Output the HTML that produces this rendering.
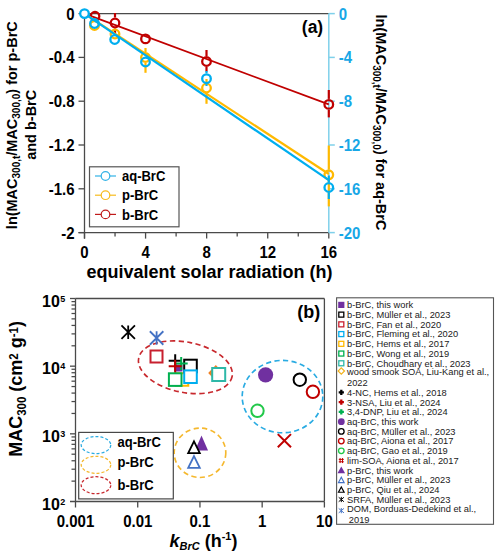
<!DOCTYPE html>
<html><head><meta charset="utf-8"><style>
html,body{margin:0;padding:0;background:#fff;width:500px;height:557px;overflow:hidden}
svg{display:block}
text{font-family:"Liberation Sans", sans-serif;fill:#000}
.b13{font-size:13px;font-weight:bold}
.b14{font-size:15px;font-weight:bold}
.b15{font-size:15px;font-weight:bold}
.b145{font-size:14.5px;font-weight:bold}
.b155{font-size:15.5px;font-weight:bold}
.b16{font-size:16px;font-weight:bold}
.b17{font-size:17px;font-weight:bold}
.b18{font-size:18px;font-weight:bold}
.b185{font-size:18px;font-weight:bold}
.b10{font-size:10px;font-weight:bold}
.r93{font-size:9.3px;fill:#1a1a1a}
.sub{font-size:10px}
.sub2{font-size:11px}
.sup2{font-size:11px}
.sub3{font-size:11.5px}
</style></head><body>
<svg width="500" height="557" viewBox="0 0 500 557">
<line x1="84.5" y1="13.6" x2="328.8" y2="13.6" stroke="#4a4a4a" stroke-width="1.3"/>
<line x1="84.5" y1="13.6" x2="84.5" y2="238.6" stroke="#4a4a4a" stroke-width="1.3"/>
<line x1="78.5" y1="232.6" x2="328.8" y2="232.6" stroke="#4a4a4a" stroke-width="1.3"/>
<line x1="78.5" y1="13.60" x2="84.5" y2="13.60" stroke="#4a4a4a" stroke-width="1.3"/>
<text transform="translate(74.5,19.60) scale(1,1.07)" x="0" y="0" text-anchor="end" class="b14">0</text>
<line x1="78.5" y1="57.40" x2="84.5" y2="57.40" stroke="#4a4a4a" stroke-width="1.3"/>
<text transform="translate(74.5,63.40) scale(1,1.07)" x="0" y="0" text-anchor="end" class="b14">-0.4</text>
<line x1="78.5" y1="101.20" x2="84.5" y2="101.20" stroke="#4a4a4a" stroke-width="1.3"/>
<text transform="translate(74.5,107.20) scale(1,1.07)" x="0" y="0" text-anchor="end" class="b14">-0.8</text>
<line x1="78.5" y1="145.00" x2="84.5" y2="145.00" stroke="#4a4a4a" stroke-width="1.3"/>
<text transform="translate(74.5,151.00) scale(1,1.07)" x="0" y="0" text-anchor="end" class="b14">-1.2</text>
<line x1="78.5" y1="188.80" x2="84.5" y2="188.80" stroke="#4a4a4a" stroke-width="1.3"/>
<text transform="translate(74.5,194.80) scale(1,1.07)" x="0" y="0" text-anchor="end" class="b14">-1.6</text>
<line x1="78.5" y1="232.60" x2="84.5" y2="232.60" stroke="#4a4a4a" stroke-width="1.3"/>
<text transform="translate(74.5,238.60) scale(1,1.07)" x="0" y="0" text-anchor="end" class="b14">-2</text>
<line x1="84.50" y1="232.6" x2="84.50" y2="238.6" stroke="#4a4a4a" stroke-width="1.3"/>
<text transform="translate(84.50,258.4) scale(1,1.07)" x="0" y="0" text-anchor="middle" class="b14">0</text>
<line x1="115.04" y1="232.6" x2="115.04" y2="236.6" stroke="#4a4a4a" stroke-width="1.3"/>
<line x1="145.57" y1="232.6" x2="145.57" y2="238.6" stroke="#4a4a4a" stroke-width="1.3"/>
<text transform="translate(145.57,258.4) scale(1,1.07)" x="0" y="0" text-anchor="middle" class="b14">4</text>
<line x1="176.11" y1="232.6" x2="176.11" y2="236.6" stroke="#4a4a4a" stroke-width="1.3"/>
<line x1="206.65" y1="232.6" x2="206.65" y2="238.6" stroke="#4a4a4a" stroke-width="1.3"/>
<text transform="translate(206.65,258.4) scale(1,1.07)" x="0" y="0" text-anchor="middle" class="b14">8</text>
<line x1="237.19" y1="232.6" x2="237.19" y2="236.6" stroke="#4a4a4a" stroke-width="1.3"/>
<line x1="267.73" y1="232.6" x2="267.73" y2="238.6" stroke="#4a4a4a" stroke-width="1.3"/>
<text transform="translate(267.73,258.4) scale(1,1.07)" x="0" y="0" text-anchor="middle" class="b14">12</text>
<line x1="298.26" y1="232.6" x2="298.26" y2="236.6" stroke="#4a4a4a" stroke-width="1.3"/>
<line x1="328.80" y1="232.6" x2="328.80" y2="238.6" stroke="#4a4a4a" stroke-width="1.3"/>
<text transform="translate(328.80,258.4) scale(1,1.07)" x="0" y="0" text-anchor="middle" class="b14">16</text>
<text transform="translate(209.5,278) scale(1,1.07)" x="0" y="0" text-anchor="middle" class="b18">equivalent solar radiation (h)</text>
<line x1="328.8" y1="13.6" x2="328.8" y2="232.6" stroke="#7FD0EA" stroke-width="1.5"/>
<line x1="328.8" y1="13.60" x2="334.8" y2="13.60" stroke="#7FD0EA" stroke-width="1.5"/>
<text transform="translate(338.8,19.60) scale(1,1.07)" x="0" y="0" class="b14" style="fill:#18A7E6">0</text>
<line x1="328.8" y1="57.40" x2="334.8" y2="57.40" stroke="#7FD0EA" stroke-width="1.5"/>
<text transform="translate(338.8,63.40) scale(1,1.07)" x="0" y="0" class="b14" style="fill:#18A7E6">-4</text>
<line x1="328.8" y1="101.20" x2="334.8" y2="101.20" stroke="#7FD0EA" stroke-width="1.5"/>
<text transform="translate(338.8,107.20) scale(1,1.07)" x="0" y="0" class="b14" style="fill:#18A7E6">-8</text>
<line x1="328.8" y1="145.00" x2="334.8" y2="145.00" stroke="#7FD0EA" stroke-width="1.5"/>
<text transform="translate(338.8,151.00) scale(1,1.07)" x="0" y="0" class="b14" style="fill:#18A7E6">-12</text>
<line x1="328.8" y1="188.80" x2="334.8" y2="188.80" stroke="#7FD0EA" stroke-width="1.5"/>
<text transform="translate(338.8,194.80) scale(1,1.07)" x="0" y="0" class="b14" style="fill:#18A7E6">-16</text>
<line x1="328.8" y1="232.60" x2="334.8" y2="232.60" stroke="#7FD0EA" stroke-width="1.5"/>
<text transform="translate(338.8,238.60) scale(1,1.07)" x="0" y="0" class="b14" style="fill:#18A7E6">-20</text>
<text transform="translate(323.2,33.3) scale(1,1.07)" x="0" y="0" text-anchor="end" class="b16" style="font-size:17.5px">(a)</text>
<text transform="translate(17.3,125.2) rotate(-90) scale(1,1.07)" text-anchor="middle" class="b145">ln(MAC<tspan class="sub" dy="2.6">300,t</tspan><tspan dy="-2.6">/MAC</tspan><tspan class="sub" dy="2.6">300,0</tspan><tspan dy="-2.6">) for p-BrC</tspan></text>
<text transform="translate(36.1,124.8) rotate(-90) scale(1,1.07)" text-anchor="middle" class="b145" font-size="14.5">and b-BrC</text>
<text transform="translate(375.9,122.4) rotate(90) scale(1,1.07)" text-anchor="middle" class="b145">ln(MAC<tspan class="sub" dy="2.6">300,t</tspan><tspan dy="-2.6">/MAC</tspan><tspan class="sub" dy="2.6">300,0</tspan><tspan dy="-2.6">) for aq-BrC</tspan></text>
<line x1="84.5" y1="13.6" x2="328.8" y2="104.4" stroke="#C00000" stroke-width="1.75"/>
<circle cx="95" cy="16.3" r="4.3" fill="none" stroke="#C00000" stroke-width="2.3"/>
<line x1="115" y1="13" x2="115" y2="17.5" stroke="#C00000" stroke-width="2.2"/><line x1="115" y1="28.5" x2="115" y2="33" stroke="#C00000" stroke-width="2.2"/>
<circle cx="115" cy="23" r="4.3" fill="none" stroke="#C00000" stroke-width="2.3"/>
<circle cx="145.5" cy="38.9" r="4.3" fill="none" stroke="#C00000" stroke-width="2.3"/>
<line x1="206.5" y1="50" x2="206.5" y2="56.0" stroke="#C00000" stroke-width="2.2"/><line x1="206.5" y1="67.0" x2="206.5" y2="71.6" stroke="#C00000" stroke-width="2.2"/>
<circle cx="206.5" cy="61.5" r="4.3" fill="none" stroke="#C00000" stroke-width="2.3"/>
<line x1="328.8" y1="90" x2="328.8" y2="98.9" stroke="#C00000" stroke-width="2.2"/><line x1="328.8" y1="109.9" x2="328.8" y2="117.4" stroke="#C00000" stroke-width="2.2"/>
<circle cx="328.8" cy="104.4" r="4.3" fill="none" stroke="#C00000" stroke-width="2.3"/>
<line x1="84.5" y1="13.6" x2="328.8" y2="174" stroke="#FFB900" stroke-width="2.2"/>
<circle cx="94.5" cy="25.5" r="4.3" fill="none" stroke="#FFB900" stroke-width="2.3"/>
<circle cx="115" cy="34" r="4.3" fill="none" stroke="#FFB900" stroke-width="2.3"/>
<line x1="145.5" y1="48" x2="145.5" y2="52.0" stroke="#FFB900" stroke-width="2.2"/><line x1="145.5" y1="63.0" x2="145.5" y2="72.8" stroke="#FFB900" stroke-width="2.2"/>
<circle cx="145.5" cy="57.5" r="4.3" fill="none" stroke="#FFB900" stroke-width="2.3"/>
<line x1="206.5" y1="79" x2="206.5" y2="82.5" stroke="#FFB900" stroke-width="2.2"/><line x1="206.5" y1="93.5" x2="206.5" y2="103.8" stroke="#FFB900" stroke-width="2.2"/>
<circle cx="206.5" cy="88" r="4.3" fill="none" stroke="#FFB900" stroke-width="2.3"/>
<line x1="328.8" y1="145.5" x2="328.8" y2="169.3" stroke="#FFB900" stroke-width="2.2"/><line x1="328.8" y1="180.3" x2="328.8" y2="206.4" stroke="#FFB900" stroke-width="2.2"/>
<circle cx="328.8" cy="174.8" r="4.3" fill="none" stroke="#FFB900" stroke-width="2.3"/>
<line x1="84.5" y1="13.6" x2="328.8" y2="180.2" stroke="#00AEEF" stroke-width="2.2"/>
<circle cx="84.5" cy="13.6" r="4.3" fill="#fff" stroke="#00AEEF" stroke-width="2.3"/>
<circle cx="94.5" cy="23.5" r="4.3" fill="none" stroke="#00AEEF" stroke-width="2.3"/>
<circle cx="114.7" cy="39.5" r="4.3" fill="none" stroke="#00AEEF" stroke-width="2.3"/>
<circle cx="145.5" cy="62" r="4.3" fill="none" stroke="#00AEEF" stroke-width="2.3"/>
<line x1="206.5" y1="71" x2="206.5" y2="73.2" stroke="#00AEEF" stroke-width="2.2"/><line x1="206.5" y1="84.2" x2="206.5" y2="86" stroke="#00AEEF" stroke-width="2.2"/>
<circle cx="206.5" cy="78.7" r="4.3" fill="none" stroke="#00AEEF" stroke-width="2.3"/>
<line x1="328.8" y1="175.5" x2="328.8" y2="182.0" stroke="#00AEEF" stroke-width="2.2"/><line x1="328.8" y1="193.0" x2="328.8" y2="199" stroke="#00AEEF" stroke-width="2.2"/>
<circle cx="328.8" cy="187.5" r="4.3" fill="none" stroke="#00AEEF" stroke-width="2.3"/>
<rect x="89.5" y="166.8" width="89.5" height="60" fill="#fff" stroke="#555" stroke-width="1.2"/>
<line x1="95" y1="176.0" x2="116" y2="176.0" stroke="#33B2E6" stroke-width="1.2"/>
<circle cx="105.5" cy="176.0" r="4.3" fill="#fff" stroke="#33B2E6" stroke-width="1.2"/>
<text transform="translate(122,180.6) scale(1,1.07)" x="0" y="0" class="b13">aq-BrC</text>
<line x1="95" y1="195.2" x2="116" y2="195.2" stroke="#F7BC1E" stroke-width="1.2"/>
<circle cx="105.5" cy="195.2" r="4.3" fill="#fff" stroke="#F7BC1E" stroke-width="1.2"/>
<text transform="translate(122,200.3) scale(1,1.07)" x="0" y="0" class="b13">p-BrC</text>
<line x1="95" y1="214.4" x2="116" y2="214.4" stroke="#C01A1A" stroke-width="1.2"/>
<circle cx="105.5" cy="214.4" r="4.3" fill="#fff" stroke="#C01A1A" stroke-width="1.2"/>
<text transform="translate(122,220.0) scale(1,1.07)" x="0" y="0" class="b13">b-BrC</text>
<line x1="75.5" y1="298.5" x2="324.4" y2="298.5" stroke="#4a4a4a" stroke-width="1.3"/>
<line x1="324.4" y1="298.5" x2="324.4" y2="501.5" stroke="#4a4a4a" stroke-width="1.3"/>
<line x1="75.5" y1="298.5" x2="75.5" y2="507.5" stroke="#4a4a4a" stroke-width="1.3"/>
<line x1="70.0" y1="501.5" x2="324.4" y2="501.5" stroke="#4a4a4a" stroke-width="1.3"/>
<line x1="70.0" y1="298.50" x2="75.5" y2="298.50" stroke="#4a4a4a" stroke-width="1.3"/>
<line x1="71.5" y1="345.80" x2="75.5" y2="345.80" stroke="#4a4a4a" stroke-width="1.25"/>
<line x1="71.5" y1="333.88" x2="75.5" y2="333.88" stroke="#4a4a4a" stroke-width="1.25"/>
<line x1="71.5" y1="325.43" x2="75.5" y2="325.43" stroke="#4a4a4a" stroke-width="1.25"/>
<line x1="71.5" y1="318.87" x2="75.5" y2="318.87" stroke="#4a4a4a" stroke-width="1.25"/>
<line x1="71.5" y1="313.51" x2="75.5" y2="313.51" stroke="#4a4a4a" stroke-width="1.25"/>
<line x1="71.5" y1="308.98" x2="75.5" y2="308.98" stroke="#4a4a4a" stroke-width="1.25"/>
<line x1="71.5" y1="305.06" x2="75.5" y2="305.06" stroke="#4a4a4a" stroke-width="1.25"/>
<line x1="71.5" y1="301.60" x2="75.5" y2="301.60" stroke="#4a4a4a" stroke-width="1.25"/>
<line x1="70.0" y1="366.17" x2="75.5" y2="366.17" stroke="#4a4a4a" stroke-width="1.3"/>
<line x1="71.5" y1="413.46" x2="75.5" y2="413.46" stroke="#4a4a4a" stroke-width="1.25"/>
<line x1="71.5" y1="401.55" x2="75.5" y2="401.55" stroke="#4a4a4a" stroke-width="1.25"/>
<line x1="71.5" y1="393.09" x2="75.5" y2="393.09" stroke="#4a4a4a" stroke-width="1.25"/>
<line x1="71.5" y1="386.54" x2="75.5" y2="386.54" stroke="#4a4a4a" stroke-width="1.25"/>
<line x1="71.5" y1="381.18" x2="75.5" y2="381.18" stroke="#4a4a4a" stroke-width="1.25"/>
<line x1="71.5" y1="376.65" x2="75.5" y2="376.65" stroke="#4a4a4a" stroke-width="1.25"/>
<line x1="71.5" y1="372.72" x2="75.5" y2="372.72" stroke="#4a4a4a" stroke-width="1.25"/>
<line x1="71.5" y1="369.26" x2="75.5" y2="369.26" stroke="#4a4a4a" stroke-width="1.25"/>
<line x1="70.0" y1="433.83" x2="75.5" y2="433.83" stroke="#4a4a4a" stroke-width="1.3"/>
<line x1="71.5" y1="481.13" x2="75.5" y2="481.13" stroke="#4a4a4a" stroke-width="1.25"/>
<line x1="71.5" y1="469.21" x2="75.5" y2="469.21" stroke="#4a4a4a" stroke-width="1.25"/>
<line x1="71.5" y1="460.76" x2="75.5" y2="460.76" stroke="#4a4a4a" stroke-width="1.25"/>
<line x1="71.5" y1="454.20" x2="75.5" y2="454.20" stroke="#4a4a4a" stroke-width="1.25"/>
<line x1="71.5" y1="448.85" x2="75.5" y2="448.85" stroke="#4a4a4a" stroke-width="1.25"/>
<line x1="71.5" y1="444.32" x2="75.5" y2="444.32" stroke="#4a4a4a" stroke-width="1.25"/>
<line x1="71.5" y1="440.39" x2="75.5" y2="440.39" stroke="#4a4a4a" stroke-width="1.25"/>
<line x1="71.5" y1="436.93" x2="75.5" y2="436.93" stroke="#4a4a4a" stroke-width="1.25"/>
<text transform="translate(59.8,306.70) scale(1,1.07)" x="0" y="0" text-anchor="end" class="b16">10</text>
<text transform="translate(60.2,301.60) scale(1,1.07)" x="0" y="0" class="b10" style="font-size:9px">5</text>
<text transform="translate(59.8,374.37) scale(1,1.07)" x="0" y="0" text-anchor="end" class="b16">10</text>
<text transform="translate(60.2,369.27) scale(1,1.07)" x="0" y="0" class="b10" style="font-size:9px">4</text>
<text transform="translate(59.8,442.03) scale(1,1.07)" x="0" y="0" text-anchor="end" class="b16">10</text>
<text transform="translate(60.2,436.93) scale(1,1.07)" x="0" y="0" class="b10" style="font-size:9px">3</text>
<text transform="translate(59.8,509.70) scale(1,1.07)" x="0" y="0" text-anchor="end" class="b16">10</text>
<text transform="translate(60.2,504.60) scale(1,1.07)" x="0" y="0" class="b10" style="font-size:9px">2</text>
<text transform="translate(75.50,526.8) scale(1,1.07)" x="0" y="0" text-anchor="middle" class="b14">0.001</text>
<line x1="137.72" y1="501.5" x2="137.72" y2="507.5" stroke="#4a4a4a" stroke-width="1.3"/>
<text transform="translate(137.72,526.8) scale(1,1.07)" x="0" y="0" text-anchor="middle" class="b14">0.01</text>
<line x1="199.95" y1="501.5" x2="199.95" y2="507.5" stroke="#4a4a4a" stroke-width="1.3"/>
<text transform="translate(199.95,526.8) scale(1,1.07)" x="0" y="0" text-anchor="middle" class="b14">0.1</text>
<line x1="262.17" y1="501.5" x2="262.17" y2="507.5" stroke="#4a4a4a" stroke-width="1.3"/>
<text transform="translate(262.17,526.8) scale(1,1.07)" x="0" y="0" text-anchor="middle" class="b14">1</text>
<line x1="324.40" y1="501.5" x2="324.40" y2="507.5" stroke="#4a4a4a" stroke-width="1.3"/>
<text transform="translate(324.40,526.8) scale(1,1.07)" x="0" y="0" text-anchor="middle" class="b14">10</text>
<text transform="translate(320.3,318.2) scale(1,1.07)" x="0" y="0" text-anchor="end" class="b17" style="font-size:18px">(b)</text>
<text transform="translate(169.5,546.8) scale(1,1.07)" x="0" y="0" class="b18"><tspan font-style="italic">k</tspan><tspan font-style="italic" class="sub2" dy="3">BrC</tspan><tspan dy="-3"> (h</tspan><tspan class="sup2" dy="-6">-1</tspan><tspan dy="6">)</tspan></text>
<text transform="translate(22.1,388.9) rotate(-90) scale(1,1.07)" text-anchor="middle" class="b185">MAC<tspan class="sub3" dy="3.9">300</tspan><tspan dy="-3.9"> (cm</tspan><tspan class="sub3" dy="-4.2">2</tspan><tspan dy="4.2"> g</tspan><tspan class="sub3" dy="-4.2">-1</tspan><tspan dy="4.2">)</tspan></text>
<ellipse cx="185.4" cy="367.3" rx="47.6" ry="25.2" transform="rotate(11.15 185.4 367.3)" fill="none" stroke="#C8282D" stroke-width="1.65" stroke-dasharray="5.2 3.4"/>
<ellipse cx="282.5" cy="396.6" rx="40.3" ry="36.2" fill="none" stroke="#29ABE2" stroke-width="1.65" stroke-dasharray="5.2 3.4"/>
<ellipse cx="200" cy="452.8" rx="25.8" ry="24.7" fill="none" stroke="#F5B82E" stroke-width="1.65" stroke-dasharray="5.2 3.4"/>
<path d="M121.44999999999999 325.45L134.95 338.95M134.95 325.45L121.44999999999999 338.95M128.2 325.45V338.95" stroke="#000" stroke-width="1.8" fill="none"/>
<path d="M149.85 331.25L163.35 344.75M163.35 331.25L149.85 344.75M156.6 331.25V344.75" stroke="#4472C4" stroke-width="1.8" fill="none"/>
<rect x="150.5" y="350.5" width="12" height="12" fill="#fff" stroke="#C8202F" stroke-width="2"/>
<path d="M215.8 365L223.4 373L215.8 381L208.2 373Z" fill="#F07F22"/>
<rect x="212.2" y="368.0" width="13" height="13" fill="#fff" stroke="#2EB8A8" stroke-width="2"/>
<rect x="175.75" y="373.25" width="12.5" height="12.5" fill="#fff" stroke="#FFB900" stroke-width="2"/>
<rect x="174" y="364.5" width="8.5" height="7" fill="#7030A0"/>
<rect x="184.2" y="359.7" width="12.6" height="12.6" fill="#fff" stroke="#000" stroke-width="2"/>
<path d="M168.7 360.8H181.7M175.2 354.3V367.3" stroke="#000" stroke-width="2" fill="none"/>
<path d="M174.7 363.5H187.7M181.2 357.0V370.0" stroke="#00B050" stroke-width="2" fill="none"/>
<path d="M168.7 366.2H181.7M175.2 359.7V372.7" stroke="#C00000" stroke-width="2" fill="none"/>
<rect x="184.2" y="370.4" width="12.6" height="12.6" fill="#fff" stroke="#00AEEF" stroke-width="2"/>
<rect x="168.89999999999998" y="373.3" width="12.6" height="12.6" fill="#fff" stroke="#00B050" stroke-width="2"/>
<circle cx="265.6" cy="374.8" r="7.6" fill="#7030A0"/>
<circle cx="299.8" cy="379.7" r="6.2" fill="#fff" stroke="#000" stroke-width="2"/>
<circle cx="312.9" cy="391.8" r="6.2" fill="#fff" stroke="#C00000" stroke-width="2"/>
<circle cx="257.5" cy="410.8" r="6.2" fill="#fff" stroke="#22C84A" stroke-width="2"/>
<path d="M277.79999999999995 434.09999999999997L291.0 447.3M291.0 434.09999999999997L277.79999999999995 447.3" stroke="#C00000" stroke-width="2" fill="none"/>
<path d="M201.5 435.4L208.0 450.4L195.0 450.4Z" fill="#7030A0"/>
<path d="M194 441.40000000000003L199.81 453.20000000000005L188.19 453.20000000000005Z" fill="#fff" stroke="#000" stroke-width="1.8" stroke-linejoin="miter"/>
<path d="M194 456.1L199.81 467.90000000000003L188.19 467.90000000000003Z" fill="#fff" stroke="#4472C4" stroke-width="1.8" stroke-linejoin="miter"/>
<rect x="78.7" y="432.4" width="94.6" height="66.5" fill="none" stroke="#484848" stroke-width="1.2"/>
<ellipse cx="96" cy="445.1" rx="14.8" ry="8.5" fill="none" stroke="#29ABE2" stroke-width="1.25" stroke-dasharray="3 2"/>
<text transform="translate(117.5,446.6) scale(1,1.07)" x="0" y="0" class="b13">aq-BrC</text>
<ellipse cx="96" cy="464.8" rx="14.8" ry="8.5" fill="none" stroke="#F5B82E" stroke-width="1.25" stroke-dasharray="3 2"/>
<text transform="translate(117.5,467.2) scale(1,1.07)" x="0" y="0" class="b13">p-BrC</text>
<ellipse cx="96" cy="485.2" rx="14.8" ry="8.5" fill="none" stroke="#C8282D" stroke-width="1.25" stroke-dasharray="3 2"/>
<text transform="translate(117.5,489.5) scale(1,1.07)" x="0" y="0" class="b13">b-BrC</text>
<rect x="336.6" y="297.8" width="156.9" height="226.5" fill="#fff" stroke="#555" stroke-width="1.1"/>
<rect x="338.2" y="301.79999999999995" width="6.2" height="6.2" fill="#7030A0"/>
<text x="347" y="308.20" class="r93">b-BrC, this work</text>
<rect x="338.8" y="312.13" width="5" height="5" fill="none" stroke="#000" stroke-width="1.3"/>
<text x="347" y="317.93" class="r93">b-BrC, Müller et al., 2023</text>
<rect x="338.8" y="321.85999999999996" width="5" height="5" fill="none" stroke="#C8202F" stroke-width="1.3"/>
<text x="347" y="327.66" class="r93">b-BrC, Fan et al., 2020</text>
<rect x="338.8" y="331.59" width="5" height="5" fill="none" stroke="#00AEEF" stroke-width="1.3"/>
<text x="347" y="337.39" class="r93">b-BrC, Fleming et al., 2020</text>
<rect x="338.8" y="341.32" width="5" height="5" fill="none" stroke="#FFB900" stroke-width="1.3"/>
<text x="347" y="347.12" class="r93">b-BrC, Hems et al., 2017</text>
<rect x="338.8" y="351.05" width="5" height="5" fill="none" stroke="#00B050" stroke-width="1.3"/>
<text x="347" y="356.85" class="r93">b-BrC, Wong et al., 2019</text>
<rect x="338.8" y="360.78" width="5" height="5" fill="none" stroke="#2EB8A8" stroke-width="1.3"/>
<text x="347" y="366.58" class="r93">b-BrC, Choudhary et al., 2023</text>
<path d="M341.3 367.81L344.5 371.01L341.3 374.21L338.1 371.01Z" fill="none" stroke="#F2B21C" stroke-width="1.2"/>
<text x="347" y="375.31" class="r93">wood smook SOA, Liu-Kang et al.,</text>
<text x="347" y="386.04" class="r93">2022</text>
<path d="M338.7 392.46999999999997H343.90000000000003M341.3 389.86999999999995V395.07" stroke="#000" stroke-width="2.3" fill="none"/>
<text x="347" y="395.77" class="r93">4-NC, Hems et al., 2018</text>
<path d="M338.7 402.2H343.90000000000003M341.3 399.59999999999997V404.8" stroke="#C00000" stroke-width="2.3" fill="none"/>
<text x="347" y="405.50" class="r93">3-NSA, Liu et al., 2024</text>
<path d="M338.7 411.93H343.90000000000003M341.3 409.33V414.53000000000003" stroke="#00B050" stroke-width="2.3" fill="none"/>
<text x="347" y="415.23" class="r93">3,4-DNP, Liu et al., 2024</text>
<circle cx="341.3" cy="421.65999999999997" r="3.4" fill="#7030A0"/>
<text x="347" y="424.96" class="r93">aq-BrC, this work</text>
<circle cx="341.3" cy="431.39" r="2.8" fill="none" stroke="#000" stroke-width="1.3"/>
<text x="347" y="434.69" class="r93">aq-BrC, Müller et al., 2023</text>
<circle cx="341.3" cy="441.11999999999995" r="2.8" fill="none" stroke="#C00000" stroke-width="1.3"/>
<text x="347" y="444.42" class="r93">aq-BrC, Aiona et al., 2017</text>
<circle cx="341.3" cy="450.84999999999997" r="2.8" fill="none" stroke="#22C84A" stroke-width="1.3"/>
<text x="347" y="454.15" class="r93">aq-BrC, Gao et al., 2019</text>
<path d="M338.8 459.38H343.8M338.8 461.78H343.8M340.1 458.08V463.08M342.5 458.08V463.08" stroke="#C00000" stroke-width="1" fill="none"/>
<text x="347" y="463.88" class="r93">lim-SOA, Aiona et al., 2017</text>
<path d="M341.3 466.51L345.1 473.31L337.5 473.31Z" fill="#7030A0"/>
<text x="347" y="473.61" class="r93">p-BrC, this work</text>
<path d="M341.3 477.24L344.1 482.54L338.5 482.54Z" fill="none" stroke="#4472C4" stroke-width="1.2"/>
<text x="347" y="483.34" class="r93">p-BrC, Müller et al., 2023</text>
<path d="M341.3 486.96999999999997L344.1 492.27L338.5 492.27Z" fill="none" stroke="#000" stroke-width="1.2"/>
<text x="347" y="493.07" class="r93">p-BrC, Qiu et al., 2024</text>
<path d="M338.7 497.3L343.90000000000003 501.7M343.90000000000003 497.3L338.7 501.7M341.3 496.9V502.1" stroke="#000" stroke-width="1" fill="none"/>
<text x="347" y="502.80" class="r93">SRFA, Müller et al., 2023</text>
<path d="M338.7 508.43L343.90000000000003 512.83M343.90000000000003 508.43L338.7 512.83M341.3 508.03V513.23" stroke="#4472C4" stroke-width="1" fill="none"/>
<text x="347" y="512.13" class="r93">DOM, Borduas-Dedekind et al.,</text>
<text x="348.8" y="523.16" class="r93">2019</text>
</svg>
</body></html>
